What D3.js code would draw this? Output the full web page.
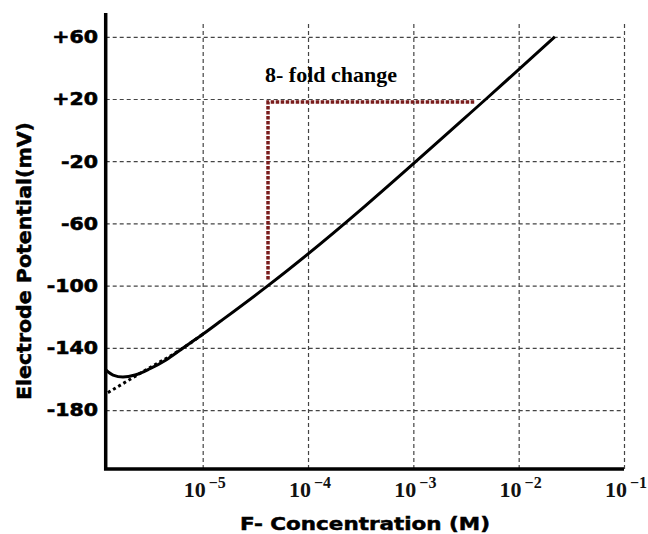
<!DOCTYPE html>
<html>
<head>
<meta charset="utf-8">
<script src="https://cdn.jsdelivr.net/npm/d3@7"></script>
<style>
    body { margin: 0; background: #fff; }
    svg { display: block; }
</style>
</head>
<body>
<div id="chart"></div>
<script>
'use strict';

// F- concentration (M) and electrode potential (mV)
const curveConc = [1.21e-6, 1.41e-6, 1.75e-6, 2.28e-6, 3.16e-6, 4.49e-6, 6.35e-6, 1.0e-5, 1.46e-5, 4.17e-5, 4.90e-3, 2.21e-2];
const curveMV   = [-154.4, -157.5, -158.8, -157.5, -153.4, -147.8, -140.6, -131.3, -123.1, -100, 20, 60];

// Nernstian extrapolation (dotted) at low concentration
const extrapConc = [1.26e-6, 2.71e-6, 6.35e-6, 1.0e-5];
const extrapMV   = [-168.8, -155.3, -140.6, -131.3];

// "8- fold change" marker
const foldConc = [4.17e-5, 3.85e-3];
const foldMV   = [-96, 18];
const foldLabel = "8- fold change";

const xTicks = [1e-5, 1e-4, 1e-3, 1e-2, 1e-1];
const xTickExp = ["\u22125", "\u22124", "\u22123", "\u22122", "\u22121"];
const yTicks = [60, 20, -20, -60, -100, -140, -180];

const xTitle = "F- Concentration (M)";
const yTitle = "Electrode Potential(mV)";

const width = 648, height = 534;
const plotLeft = 105.7, plotRight = 624, plotTop = 13, plotBottom = 469, gridTop = 23;
const stretch = 1.17;
const sans = "'DejaVu Sans', sans-serif";
const serif = "'Liberation Serif', 'Times New Roman', serif";

const svg = d3.select("#chart").append("svg")
    .attr("width", width)
    .attr("height", height);

const x = d3.scaleLog()
    .domain([1.2e-6, 1e-1])
    .range([plotLeft, plotRight]);

const y = d3.scaleLinear()
    .domain([-217.9, 75.3])
    .range([plotBottom, plotTop]);

// widen sans glyphs a little, like the original lettering
function widen(sel, factor) {
    sel.each(function () {
        const w = this.getComputedTextLength();
        d3.select(this)
            .attr("textLength", w * factor)
            .attr("lengthAdjust", "spacingAndGlyphs");
    });
}

// Grid
const gridY = svg.append("g")
    .attr("transform", `translate(${plotLeft},0)`)
    .call(d3.axisLeft(y).tickValues(yTicks).tickSize(-(plotRight - plotLeft)).tickFormat(""));

const gridX = svg.append("g")
    .attr("transform", `translate(0,${plotBottom})`)
    .call(d3.axisBottom(x).tickValues(xTicks).tickSize(-(plotBottom - gridTop)).tickFormat(""));

[gridX, gridY].forEach(g => {
    g.select(".domain").remove();
    g.selectAll("line")
        .attr("stroke", "#444")
        .attr("stroke-width", 1.2)
        .attr("stroke-dasharray", "4 3");
});

// Y tick labels
const yLabels = svg.append("g")
    .selectAll("text")
    .data(yTicks)
    .join("text")
    .attr("x", 98)
    .attr("y", d => y(d))
    .attr("dy", "0.36em")
    .attr("text-anchor", "end")
    .attr("font-family", sans)
    .attr("font-weight", "bold")
    .attr("font-size", 17.5)
    .attr("fill", "#000")
    .attr("stroke", "#000")
    .attr("stroke-width", 0.6)
    .text(d => d > 0 ? `+${d}` : `${d}`);
widen(yLabels, stretch);

// X tick labels, 10 with a superscript exponent
const xLabels = svg.append("g")
    .selectAll("text")
    .data(xTicks)
    .join("text")
    .attr("x", d => x(d) + 2)
    .attr("y", 497)
    .attr("text-anchor", "middle")
    .attr("font-family", serif)
    .attr("font-weight", "bold")
    .attr("font-size", 22)
    .attr("fill", "#111");

xLabels.append("tspan").text("10");
xLabels.append("tspan")
    .attr("dx", 3)
    .attr("dy", -9)
    .attr("font-size", 16)
    .text((d, i) => xTickExp[i]);

// Fold-change marker
const marker = svg.append("g")
    .attr("fill", "none")
    .attr("stroke", "#7a1c1c")
    .attr("stroke-width", 3.5)
    .attr("stroke-dasharray", "3.5 1.5");

marker.append("path")
    .attr("d", d3.line()([
        [x(foldConc[0]), y(foldMV[0])],
        [x(foldConc[0]), y(foldMV[1])],
        [x(foldConc[1]), y(foldMV[1])]
    ]));

svg.append("text")
    .attr("x", x(foldConc[0]) - 3)
    .attr("y", y(foldMV[1]) - 20)
    .attr("font-family", serif)
    .attr("font-weight", "bold")
    .attr("font-size", 22)
    .attr("fill", "#000")
    .text(foldLabel);

// Curves
const line = d3.line()
    .x(d => x(d[0]))
    .y(d => y(d[1]))
    .curve(d3.curveMonotoneX);

svg.append("path")
    .attr("d", line(d3.zip(extrapConc, extrapMV)))
    .attr("fill", "none")
    .attr("stroke", "#000")
    .attr("stroke-width", 3)
    .attr("stroke-dasharray", "3 3");

svg.append("path")
    .attr("d", line(d3.zip(curveConc, curveMV)))
    .attr("fill", "none")
    .attr("stroke", "#000")
    .attr("stroke-width", 3);

// Axis frame
svg.append("path")
    .attr("d", `M${plotLeft},${plotTop}V${plotBottom}H${plotRight}`)
    .attr("fill", "none")
    .attr("stroke", "#000")
    .attr("stroke-width", 3.5);

// Axis titles
const xt = svg.append("text")
    .attr("x", 365)
    .attr("y", 530)
    .attr("text-anchor", "middle")
    .attr("font-family", sans)
    .attr("font-weight", "bold")
    .attr("font-size", 18)
    .attr("stroke", "#000")
    .attr("stroke-width", 0.5)
    .text(xTitle);
widen(xt, 250 / xt.node().getComputedTextLength());

const yt = svg.append("text")
    .attr("transform", "translate(31,261) rotate(-90)")
    .attr("text-anchor", "middle")
    .attr("font-family", sans)
    .attr("font-weight", "bold")
    .attr("font-size", 20)
    .attr("stroke", "#000")
    .attr("stroke-width", 0.5)
    .text(yTitle);
widen(yt, 278 / yt.node().getComputedTextLength());
</script>
</body>
</html>
